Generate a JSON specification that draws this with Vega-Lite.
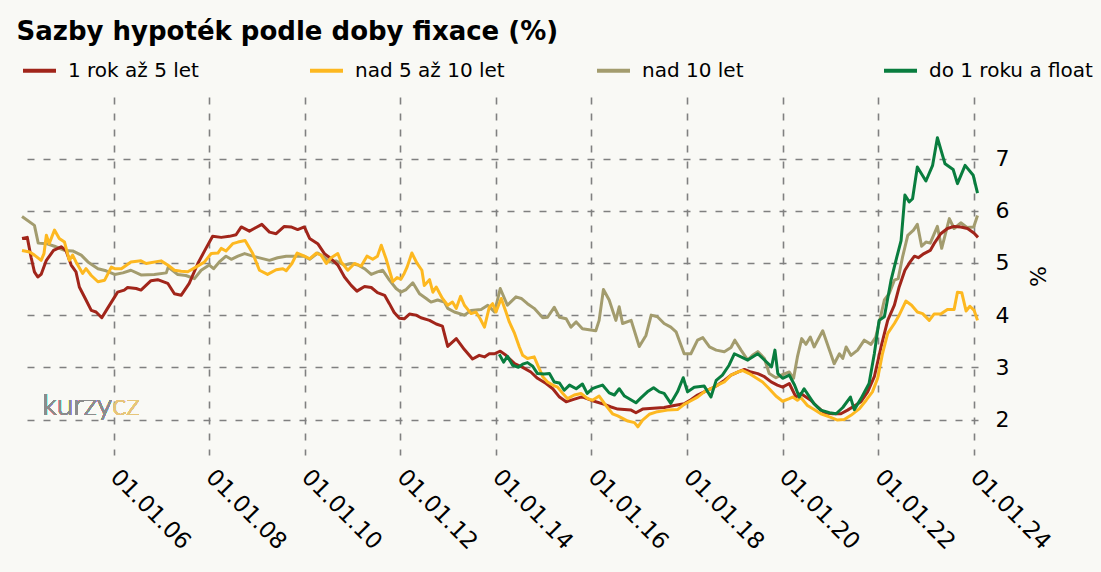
{
  "$schema": "https://vega.github.io/schema/vega-lite/v6.json",
  "autosize": "none",
  "width": 956,
  "height": 358,
  "padding": {"left": 22, "top": 97, "right": 123, "bottom": 117},
  "background": "#f9f9f5",
  "title": {
    "text": "Sazby hypoték podle doby fixace (%)",
    "anchor": "start",
    "font": "DejaVu Sans",
    "fontSize": 26,
    "fontWeight": "bold",
    "color": "#000000",
    "dx": -4,
    "offset": 7
  },
  "config": {
    "view": {"stroke": null},
    "font": "DejaVu Sans"
  },
  "data": {
    "values": [
      {"s":"nad 10 let","t":2004.08,"v":5.89},{"s":"nad 10 let","t":2004.34,"v":5.72},{"s":"nad 10 let","t":2004.42,"v":5.38},{"s":"nad 10 let","t":2004.59,"v":5.37},{"s":"nad 10 let","t":2004.76,"v":5.32},{"s":"nad 10 let","t":2004.97,"v":5.24},{"s":"nad 10 let","t":2005.14,"v":5.23},{"s":"nad 10 let","t":2005.32,"v":5.15},{"s":"nad 10 let","t":2005.46,"v":5.02},{"s":"nad 10 let","t":2005.67,"v":4.89},{"s":"nad 10 let","t":2005.84,"v":4.85},{"s":"nad 10 let","t":2006.02,"v":4.78},{"s":"nad 10 let","t":2006.19,"v":4.81},{"s":"nad 10 let","t":2006.36,"v":4.86},{"s":"nad 10 let","t":2006.57,"v":4.77},{"s":"nad 10 let","t":2006.85,"v":4.78},{"s":"nad 10 let","t":2007.10,"v":4.81},{"s":"nad 10 let","t":2007.14,"v":4.92},{"s":"nad 10 let","t":2007.34,"v":4.78},{"s":"nad 10 let","t":2007.51,"v":4.76},{"s":"nad 10 let","t":2007.69,"v":4.70},{"s":"nad 10 let","t":2007.83,"v":4.86},{"s":"nad 10 let","t":2008.00,"v":4.96},{"s":"nad 10 let","t":2008.09,"v":4.89},{"s":"nad 10 let","t":2008.21,"v":5.02},{"s":"nad 10 let","t":2008.35,"v":5.13},{"s":"nad 10 let","t":2008.46,"v":5.07},{"s":"nad 10 let","t":2008.60,"v":5.13},{"s":"nad 10 let","t":2008.74,"v":5.18},{"s":"nad 10 let","t":2008.91,"v":5.13},{"s":"nad 10 let","t":2009.26,"v":5.05},{"s":"nad 10 let","t":2009.43,"v":5.10},{"s":"nad 10 let","t":2009.61,"v":5.13},{"s":"nad 10 let","t":2009.78,"v":5.13},{"s":"nad 10 let","t":2009.99,"v":5.13},{"s":"nad 10 let","t":2010.10,"v":5.07},{"s":"nad 10 let","t":2010.27,"v":5.19},{"s":"nad 10 let","t":2010.41,"v":5.11},{"s":"nad 10 let","t":2010.51,"v":5.02},{"s":"nad 10 let","t":2010.65,"v":5.04},{"s":"nad 10 let","t":2010.83,"v":4.96},{"s":"nad 10 let","t":2010.97,"v":4.99},{"s":"nad 10 let","t":2011.11,"v":4.96},{"s":"nad 10 let","t":2011.25,"v":4.89},{"s":"nad 10 let","t":2011.39,"v":4.78},{"s":"nad 10 let","t":2011.52,"v":4.83},{"s":"nad 10 let","t":2011.63,"v":4.86},{"s":"nad 10 let","t":2011.77,"v":4.67},{"s":"nad 10 let","t":2011.91,"v":4.51},{"s":"nad 10 let","t":2012.01,"v":4.44},{"s":"nad 10 let","t":2012.12,"v":4.49},{"s":"nad 10 let","t":2012.26,"v":4.62},{"s":"nad 10 let","t":2012.40,"v":4.41},{"s":"nad 10 let","t":2012.54,"v":4.32},{"s":"nad 10 let","t":2012.64,"v":4.25},{"s":"nad 10 let","t":2012.78,"v":4.29},{"s":"nad 10 let","t":2012.92,"v":4.25},{"s":"nad 10 let","t":2012.99,"v":4.13},{"s":"nad 10 let","t":2013.13,"v":4.06},{"s":"nad 10 let","t":2013.34,"v":4.00},{"s":"nad 10 let","t":2013.48,"v":4.09},{"s":"nad 10 let","t":2013.69,"v":4.11},{"s":"nad 10 let","t":2013.83,"v":4.19},{"s":"nad 10 let","t":2013.97,"v":4.06},{"s":"nad 10 let","t":2014.09,"v":4.51},{"s":"nad 10 let","t":2014.24,"v":4.19},{"s":"nad 10 let","t":2014.42,"v":4.35},{"s":"nad 10 let","t":2014.53,"v":4.32},{"s":"nad 10 let","t":2014.66,"v":4.22},{"s":"nad 10 let","t":2014.80,"v":4.13},{"s":"nad 10 let","t":2014.98,"v":3.95},{"s":"nad 10 let","t":2015.08,"v":3.96},{"s":"nad 10 let","t":2015.22,"v":4.15},{"s":"nad 10 let","t":2015.33,"v":3.96},{"s":"nad 10 let","t":2015.47,"v":3.93},{"s":"nad 10 let","t":2015.57,"v":3.77},{"s":"nad 10 let","t":2015.68,"v":3.87},{"s":"nad 10 let","t":2015.81,"v":3.74},{"s":"nad 10 let","t":2015.95,"v":3.72},{"s":"nad 10 let","t":2016.09,"v":3.70},{"s":"nad 10 let","t":2016.16,"v":3.90},{"s":"nad 10 let","t":2016.25,"v":4.49},{"s":"nad 10 let","t":2016.37,"v":4.29},{"s":"nad 10 let","t":2016.51,"v":3.90},{"s":"nad 10 let","t":2016.58,"v":4.16},{"s":"nad 10 let","t":2016.65,"v":3.84},{"s":"nad 10 let","t":2016.83,"v":3.90},{"s":"nad 10 let","t":2017.00,"v":3.40},{"s":"nad 10 let","t":2017.14,"v":3.61},{"s":"nad 10 let","t":2017.25,"v":4.00},{"s":"nad 10 let","t":2017.38,"v":3.97},{"s":"nad 10 let","t":2017.52,"v":3.84},{"s":"nad 10 let","t":2017.66,"v":3.77},{"s":"nad 10 let","t":2017.77,"v":3.68},{"s":"nad 10 let","t":2017.94,"v":3.26},{"s":"nad 10 let","t":2018.08,"v":3.26},{"s":"nad 10 let","t":2018.22,"v":3.52},{"s":"nad 10 let","t":2018.33,"v":3.57},{"s":"nad 10 let","t":2018.47,"v":3.39},{"s":"nad 10 let","t":2018.61,"v":3.33},{"s":"nad 10 let","t":2018.78,"v":3.30},{"s":"nad 10 let","t":2018.92,"v":3.38},{"s":"nad 10 let","t":2019.00,"v":3.52},{"s":"nad 10 let","t":2019.13,"v":3.33},{"s":"nad 10 let","t":2019.27,"v":3.14},{"s":"nad 10 let","t":2019.37,"v":3.23},{"s":"nad 10 let","t":2019.48,"v":3.30},{"s":"nad 10 let","t":2019.62,"v":3.17},{"s":"nad 10 let","t":2019.72,"v":2.88},{"s":"nad 10 let","t":2019.86,"v":2.80},{"s":"nad 10 let","t":2019.97,"v":2.85},{"s":"nad 10 let","t":2020.14,"v":2.91},{"s":"nad 10 let","t":2020.23,"v":2.79},{"s":"nad 10 let","t":2020.31,"v":3.20},{"s":"nad 10 let","t":2020.40,"v":3.55},{"s":"nad 10 let","t":2020.49,"v":3.44},{"s":"nad 10 let","t":2020.58,"v":3.58},{"s":"nad 10 let","t":2020.66,"v":3.39},{"s":"nad 10 let","t":2020.84,"v":3.70},{"s":"nad 10 let","t":2020.98,"v":3.33},{"s":"nad 10 let","t":2021.08,"v":3.07},{"s":"nad 10 let","t":2021.19,"v":3.26},{"s":"nad 10 let","t":2021.26,"v":3.17},{"s":"nad 10 let","t":2021.33,"v":3.39},{"s":"nad 10 let","t":2021.43,"v":3.23},{"s":"nad 10 let","t":2021.57,"v":3.33},{"s":"nad 10 let","t":2021.71,"v":3.52},{"s":"nad 10 let","t":2021.85,"v":3.44},{"s":"nad 10 let","t":2021.95,"v":3.58},{"s":"nad 10 let","t":2022.04,"v":3.93},{"s":"nad 10 let","t":2022.13,"v":4.29},{"s":"nad 10 let","t":2022.23,"v":4.41},{"s":"nad 10 let","t":2022.34,"v":4.67},{"s":"nad 10 let","t":2022.42,"v":4.70},{"s":"nad 10 let","t":2022.51,"v":5.11},{"s":"nad 10 let","t":2022.62,"v":5.53},{"s":"nad 10 let","t":2022.74,"v":5.63},{"s":"nad 10 let","t":2022.82,"v":5.74},{"s":"nad 10 let","t":2022.91,"v":5.32},{"s":"nad 10 let","t":2023.00,"v":5.40},{"s":"nad 10 let","t":2023.09,"v":5.38},{"s":"nad 10 let","t":2023.24,"v":5.70},{"s":"nad 10 let","t":2023.33,"v":5.28},{"s":"nad 10 let","t":2023.40,"v":5.53},{"s":"nad 10 let","t":2023.49,"v":5.85},{"s":"nad 10 let","t":2023.59,"v":5.66},{"s":"nad 10 let","t":2023.73,"v":5.77},{"s":"nad 10 let","t":2023.86,"v":5.68},{"s":"nad 10 let","t":2024.00,"v":5.69},{"s":"nad 10 let","t":2024.08,"v":5.91},

      {"s":"1 rok až 5 let","t":2004.08,"v":5.47},{"s":"1 rok až 5 let","t":2004.19,"v":5.49},{"s":"1 rok až 5 let","t":2004.27,"v":5.11},{"s":"1 rok až 5 let","t":2004.34,"v":4.83},{"s":"1 rok až 5 let","t":2004.41,"v":4.73},{"s":"1 rok až 5 let","t":2004.48,"v":4.78},{"s":"1 rok až 5 let","t":2004.59,"v":5.05},{"s":"1 rok až 5 let","t":2004.74,"v":5.24},{"s":"1 rok až 5 let","t":2004.90,"v":5.31},{"s":"1 rok až 5 let","t":2005.00,"v":5.24},{"s":"1 rok až 5 let","t":2005.11,"v":4.96},{"s":"1 rok až 5 let","t":2005.21,"v":4.83},{"s":"1 rok až 5 let","t":2005.28,"v":4.54},{"s":"1 rok až 5 let","t":2005.42,"v":4.29},{"s":"1 rok až 5 let","t":2005.53,"v":4.09},{"s":"1 rok až 5 let","t":2005.63,"v":4.06},{"s":"1 rok až 5 let","t":2005.75,"v":3.95},{"s":"1 rok až 5 let","t":2005.87,"v":4.13},{"s":"1 rok až 5 let","t":2006.02,"v":4.35},{"s":"1 rok až 5 let","t":2006.08,"v":4.44},{"s":"1 rok až 5 let","t":2006.22,"v":4.48},{"s":"1 rok až 5 let","t":2006.29,"v":4.53},{"s":"1 rok až 5 let","t":2006.47,"v":4.51},{"s":"1 rok až 5 let","t":2006.57,"v":4.48},{"s":"1 rok až 5 let","t":2006.78,"v":4.66},{"s":"1 rok až 5 let","t":2006.92,"v":4.68},{"s":"1 rok až 5 let","t":2007.13,"v":4.61},{"s":"1 rok až 5 let","t":2007.27,"v":4.41},{"s":"1 rok až 5 let","t":2007.41,"v":4.38},{"s":"1 rok až 5 let","t":2007.58,"v":4.61},{"s":"1 rok až 5 let","t":2007.76,"v":4.99},{"s":"1 rok až 5 let","t":2007.93,"v":5.28},{"s":"1 rok až 5 let","t":2008.07,"v":5.51},{"s":"1 rok až 5 let","t":2008.25,"v":5.49},{"s":"1 rok až 5 let","t":2008.42,"v":5.51},{"s":"1 rok až 5 let","t":2008.56,"v":5.54},{"s":"1 rok až 5 let","t":2008.67,"v":5.69},{"s":"1 rok až 5 let","t":2008.84,"v":5.61},{"s":"1 rok až 5 let","t":2008.94,"v":5.66},{"s":"1 rok až 5 let","t":2009.10,"v":5.74},{"s":"1 rok až 5 let","t":2009.26,"v":5.59},{"s":"1 rok až 5 let","t":2009.40,"v":5.56},{"s":"1 rok až 5 let","t":2009.57,"v":5.70},{"s":"1 rok až 5 let","t":2009.71,"v":5.69},{"s":"1 rok až 5 let","t":2009.85,"v":5.64},{"s":"1 rok až 5 let","t":2009.99,"v":5.69},{"s":"1 rok až 5 let","t":2010.10,"v":5.47},{"s":"1 rok až 5 let","t":2010.27,"v":5.37},{"s":"1 rok až 5 let","t":2010.41,"v":5.18},{"s":"1 rok až 5 let","t":2010.55,"v":5.08},{"s":"1 rok až 5 let","t":2010.69,"v":4.96},{"s":"1 rok až 5 let","t":2010.83,"v":4.73},{"s":"1 rok až 5 let","t":2010.97,"v":4.57},{"s":"1 rok až 5 let","t":2011.09,"v":4.46},{"s":"1 rok až 5 let","t":2011.25,"v":4.55},{"s":"1 rok až 5 let","t":2011.39,"v":4.53},{"s":"1 rok až 5 let","t":2011.52,"v":4.43},{"s":"1 rok až 5 let","t":2011.67,"v":4.38},{"s":"1 rok až 5 let","t":2011.77,"v":4.22},{"s":"1 rok až 5 let","t":2011.87,"v":4.05},{"s":"1 rok až 5 let","t":2011.98,"v":3.94},{"s":"1 rok až 5 let","t":2012.08,"v":3.93},{"s":"1 rok až 5 let","t":2012.19,"v":4.02},{"s":"1 rok až 5 let","t":2012.33,"v":4.00},{"s":"1 rok až 5 let","t":2012.43,"v":3.95},{"s":"1 rok až 5 let","t":2012.61,"v":3.90},{"s":"1 rok až 5 let","t":2012.75,"v":3.83},{"s":"1 rok až 5 let","t":2012.88,"v":3.79},{"s":"1 rok až 5 let","t":2012.99,"v":3.40},{"s":"1 rok až 5 let","t":2013.17,"v":3.55},{"s":"1 rok až 5 let","t":2013.34,"v":3.34},{"s":"1 rok až 5 let","t":2013.51,"v":3.16},{"s":"1 rok až 5 let","t":2013.65,"v":3.23},{"s":"1 rok až 5 let","t":2013.76,"v":3.20},{"s":"1 rok až 5 let","t":2013.86,"v":3.26},{"s":"1 rok až 5 let","t":2013.97,"v":3.26},{"s":"1 rok až 5 let","t":2014.09,"v":3.31},{"s":"1 rok až 5 let","t":2014.21,"v":3.23},{"s":"1 rok až 5 let","t":2014.39,"v":3.07},{"s":"1 rok až 5 let","t":2014.56,"v":3.00},{"s":"1 rok až 5 let","t":2014.73,"v":2.91},{"s":"1 rok až 5 let","t":2014.87,"v":2.79},{"s":"1 rok až 5 let","t":2015.05,"v":2.69},{"s":"1 rok až 5 let","t":2015.19,"v":2.59},{"s":"1 rok až 5 let","t":2015.33,"v":2.43},{"s":"1 rok až 5 let","t":2015.47,"v":2.34},{"s":"1 rok až 5 let","t":2015.61,"v":2.38},{"s":"1 rok až 5 let","t":2015.78,"v":2.43},{"s":"1 rok až 5 let","t":2015.85,"v":2.42},{"s":"1 rok až 5 let","t":2015.99,"v":2.37},{"s":"1 rok až 5 let","t":2016.27,"v":2.29},{"s":"1 rok až 5 let","t":2016.41,"v":2.24},{"s":"1 rok až 5 let","t":2016.55,"v":2.20},{"s":"1 rok až 5 let","t":2016.83,"v":2.18},{"s":"1 rok až 5 let","t":2016.93,"v":2.13},{"s":"1 rok až 5 let","t":2017.07,"v":2.20},{"s":"1 rok až 5 let","t":2017.52,"v":2.23},{"s":"1 rok až 5 let","t":2017.73,"v":2.27},{"s":"1 rok až 5 let","t":2017.94,"v":2.30},{"s":"1 rok až 5 let","t":2018.08,"v":2.38},{"s":"1 rok až 5 let","t":2018.22,"v":2.47},{"s":"1 rok až 5 let","t":2018.36,"v":2.53},{"s":"1 rok až 5 let","t":2018.50,"v":2.59},{"s":"1 rok až 5 let","t":2018.64,"v":2.66},{"s":"1 rok až 5 let","t":2018.78,"v":2.75},{"s":"1 rok až 5 let","t":2018.92,"v":2.85},{"s":"1 rok až 5 let","t":2019.06,"v":2.91},{"s":"1 rok až 5 let","t":2019.20,"v":2.96},{"s":"1 rok až 5 let","t":2019.34,"v":2.91},{"s":"1 rok až 5 let","t":2019.48,"v":2.88},{"s":"1 rok až 5 let","t":2019.62,"v":2.82},{"s":"1 rok až 5 let","t":2019.76,"v":2.72},{"s":"1 rok až 5 let","t":2019.89,"v":2.66},{"s":"1 rok až 5 let","t":2020.00,"v":2.62},{"s":"1 rok až 5 let","t":2020.14,"v":2.69},{"s":"1 rok až 5 let","t":2020.28,"v":2.43},{"s":"1 rok až 5 let","t":2020.38,"v":2.50},{"s":"1 rok až 5 let","t":2020.59,"v":2.37},{"s":"1 rok až 5 let","t":2020.73,"v":2.24},{"s":"1 rok až 5 let","t":2020.87,"v":2.13},{"s":"1 rok až 5 let","t":2021.05,"v":2.11},{"s":"1 rok až 5 let","t":2021.22,"v":2.11},{"s":"1 rok až 5 let","t":2021.36,"v":2.18},{"s":"1 rok až 5 let","t":2021.50,"v":2.26},{"s":"1 rok až 5 let","t":2021.64,"v":2.34},{"s":"1 rok až 5 let","t":2021.78,"v":2.53},{"s":"1 rok až 5 let","t":2021.92,"v":2.82},{"s":"1 rok až 5 let","t":2022.06,"v":3.39},{"s":"1 rok až 5 let","t":2022.20,"v":3.90},{"s":"1 rok až 5 let","t":2022.34,"v":4.19},{"s":"1 rok až 5 let","t":2022.44,"v":4.54},{"s":"1 rok až 5 let","t":2022.56,"v":4.86},{"s":"1 rok až 5 let","t":2022.67,"v":5.02},{"s":"1 rok až 5 let","t":2022.76,"v":5.13},{"s":"1 rok až 5 let","t":2022.84,"v":5.10},{"s":"1 rok až 5 let","t":2022.96,"v":5.18},{"s":"1 rok až 5 let","t":2023.09,"v":5.24},{"s":"1 rok až 5 let","t":2023.17,"v":5.37},{"s":"1 rok až 5 let","t":2023.31,"v":5.56},{"s":"1 rok až 5 let","t":2023.45,"v":5.66},{"s":"1 rok až 5 let","t":2023.59,"v":5.70},{"s":"1 rok až 5 let","t":2023.73,"v":5.69},{"s":"1 rok až 5 let","t":2023.87,"v":5.66},{"s":"1 rok až 5 let","t":2024.01,"v":5.57},{"s":"1 rok až 5 let","t":2024.09,"v":5.49},

      {"s":"nad 5 až 10 let","t":2004.08,"v":5.24},{"s":"nad 5 až 10 let","t":2004.24,"v":5.21},{"s":"nad 5 až 10 let","t":2004.34,"v":5.15},{"s":"nad 5 až 10 let","t":2004.48,"v":5.05},{"s":"nad 5 až 10 let","t":2004.54,"v":5.18},{"s":"nad 5 až 10 let","t":2004.59,"v":5.53},{"s":"nad 5 až 10 let","t":2004.65,"v":5.37},{"s":"nad 5 až 10 let","t":2004.76,"v":5.63},{"s":"nad 5 až 10 let","t":2004.86,"v":5.47},{"s":"nad 5 až 10 let","t":2004.97,"v":5.40},{"s":"nad 5 až 10 let","t":2005.07,"v":5.05},{"s":"nad 5 až 10 let","t":2005.14,"v":5.15},{"s":"nad 5 až 10 let","t":2005.21,"v":5.02},{"s":"nad 5 až 10 let","t":2005.35,"v":4.80},{"s":"nad 5 až 10 let","t":2005.42,"v":4.89},{"s":"nad 5 až 10 let","t":2005.53,"v":4.76},{"s":"nad 5 až 10 let","t":2005.67,"v":4.64},{"s":"nad 5 až 10 let","t":2005.81,"v":4.67},{"s":"nad 5 až 10 let","t":2005.95,"v":4.92},{"s":"nad 5 až 10 let","t":2006.02,"v":4.89},{"s":"nad 5 až 10 let","t":2006.16,"v":4.89},{"s":"nad 5 až 10 let","t":2006.36,"v":5.02},{"s":"nad 5 až 10 let","t":2006.57,"v":5.04},{"s":"nad 5 až 10 let","t":2006.68,"v":4.99},{"s":"nad 5 až 10 let","t":2006.99,"v":5.04},{"s":"nad 5 až 10 let","t":2007.13,"v":4.96},{"s":"nad 5 až 10 let","t":2007.27,"v":4.86},{"s":"nad 5 až 10 let","t":2007.41,"v":4.84},{"s":"nad 5 až 10 let","t":2007.55,"v":4.83},{"s":"nad 5 až 10 let","t":2007.72,"v":4.92},{"s":"nad 5 až 10 let","t":2007.90,"v":5.02},{"s":"nad 5 až 10 let","t":2008.04,"v":5.18},{"s":"nad 5 až 10 let","t":2008.18,"v":5.19},{"s":"nad 5 až 10 let","t":2008.25,"v":5.28},{"s":"nad 5 až 10 let","t":2008.35,"v":5.23},{"s":"nad 5 až 10 let","t":2008.49,"v":5.37},{"s":"nad 5 až 10 let","t":2008.60,"v":5.40},{"s":"nad 5 až 10 let","t":2008.75,"v":5.43},{"s":"nad 5 až 10 let","t":2008.91,"v":5.18},{"s":"nad 5 až 10 let","t":2009.05,"v":4.86},{"s":"nad 5 až 10 let","t":2009.22,"v":4.78},{"s":"nad 5 až 10 let","t":2009.40,"v":4.87},{"s":"nad 5 až 10 let","t":2009.54,"v":4.89},{"s":"nad 5 až 10 let","t":2009.61,"v":4.85},{"s":"nad 5 až 10 let","t":2009.73,"v":4.99},{"s":"nad 5 až 10 let","t":2009.84,"v":5.19},{"s":"nad 5 až 10 let","t":2009.99,"v":5.13},{"s":"nad 5 až 10 let","t":2010.10,"v":5.08},{"s":"nad 5 až 10 let","t":2010.24,"v":5.19},{"s":"nad 5 až 10 let","t":2010.34,"v":5.15},{"s":"nad 5 až 10 let","t":2010.45,"v":4.99},{"s":"nad 5 až 10 let","t":2010.55,"v":5.10},{"s":"nad 5 až 10 let","t":2010.69,"v":5.18},{"s":"nad 5 až 10 let","t":2010.76,"v":5.02},{"s":"nad 5 až 10 let","t":2010.90,"v":4.86},{"s":"nad 5 až 10 let","t":2011.04,"v":4.99},{"s":"nad 5 až 10 let","t":2011.18,"v":4.94},{"s":"nad 5 až 10 let","t":2011.30,"v":5.13},{"s":"nad 5 až 10 let","t":2011.42,"v":5.07},{"s":"nad 5 až 10 let","t":2011.52,"v":5.13},{"s":"nad 5 až 10 let","t":2011.60,"v":5.34},{"s":"nad 5 až 10 let","t":2011.70,"v":5.08},{"s":"nad 5 až 10 let","t":2011.84,"v":4.64},{"s":"nad 5 až 10 let","t":2011.93,"v":4.72},{"s":"nad 5 až 10 let","t":2012.01,"v":4.69},{"s":"nad 5 až 10 let","t":2012.08,"v":4.80},{"s":"nad 5 až 10 let","t":2012.14,"v":4.92},{"s":"nad 5 až 10 let","t":2012.24,"v":5.19},{"s":"nad 5 až 10 let","t":2012.35,"v":4.99},{"s":"nad 5 až 10 let","t":2012.45,"v":4.86},{"s":"nad 5 až 10 let","t":2012.50,"v":4.57},{"s":"nad 5 až 10 let","t":2012.61,"v":4.68},{"s":"nad 5 až 10 let","t":2012.68,"v":4.44},{"s":"nad 5 až 10 let","t":2012.75,"v":4.54},{"s":"nad 5 až 10 let","t":2012.88,"v":4.32},{"s":"nad 5 až 10 let","t":2012.99,"v":4.19},{"s":"nad 5 až 10 let","t":2013.09,"v":4.25},{"s":"nad 5 až 10 let","t":2013.17,"v":4.13},{"s":"nad 5 až 10 let","t":2013.26,"v":4.36},{"s":"nad 5 až 10 let","t":2013.34,"v":4.19},{"s":"nad 5 až 10 let","t":2013.48,"v":4.03},{"s":"nad 5 až 10 let","t":2013.58,"v":4.06},{"s":"nad 5 až 10 let","t":2013.67,"v":3.93},{"s":"nad 5 až 10 let","t":2013.76,"v":3.77},{"s":"nad 5 až 10 let","t":2013.86,"v":4.15},{"s":"nad 5 až 10 let","t":2013.93,"v":4.22},{"s":"nad 5 až 10 let","t":2014.00,"v":4.06},{"s":"nad 5 až 10 let","t":2014.11,"v":4.32},{"s":"nad 5 až 10 let","t":2014.21,"v":4.06},{"s":"nad 5 až 10 let","t":2014.28,"v":3.87},{"s":"nad 5 až 10 let","t":2014.39,"v":3.65},{"s":"nad 5 až 10 let","t":2014.49,"v":3.39},{"s":"nad 5 až 10 let","t":2014.56,"v":3.23},{"s":"nad 5 až 10 let","t":2014.66,"v":3.17},{"s":"nad 5 až 10 let","t":2014.80,"v":3.20},{"s":"nad 5 až 10 let","t":2014.89,"v":3.01},{"s":"nad 5 až 10 let","t":2014.98,"v":2.82},{"s":"nad 5 až 10 let","t":2015.08,"v":2.72},{"s":"nad 5 až 10 let","t":2015.19,"v":2.66},{"s":"nad 5 až 10 let","t":2015.29,"v":2.62},{"s":"nad 5 až 10 let","t":2015.40,"v":2.50},{"s":"nad 5 až 10 let","t":2015.50,"v":2.40},{"s":"nad 5 až 10 let","t":2015.64,"v":2.47},{"s":"nad 5 až 10 let","t":2015.78,"v":2.50},{"s":"nad 5 až 10 let","t":2015.92,"v":2.40},{"s":"nad 5 až 10 let","t":2016.02,"v":2.37},{"s":"nad 5 až 10 let","t":2016.16,"v":2.45},{"s":"nad 5 až 10 let","t":2016.30,"v":2.27},{"s":"nad 5 až 10 let","t":2016.44,"v":2.11},{"s":"nad 5 až 10 let","t":2016.55,"v":2.07},{"s":"nad 5 až 10 let","t":2016.76,"v":1.97},{"s":"nad 5 až 10 let","t":2016.90,"v":1.94},{"s":"nad 5 až 10 let","t":2016.97,"v":1.86},{"s":"nad 5 až 10 let","t":2017.07,"v":1.99},{"s":"nad 5 až 10 let","t":2017.21,"v":2.10},{"s":"nad 5 až 10 let","t":2017.38,"v":2.15},{"s":"nad 5 až 10 let","t":2017.59,"v":2.18},{"s":"nad 5 až 10 let","t":2017.80,"v":2.19},{"s":"nad 5 až 10 let","t":2017.94,"v":2.29},{"s":"nad 5 až 10 let","t":2018.08,"v":2.36},{"s":"nad 5 až 10 let","t":2018.22,"v":2.43},{"s":"nad 5 až 10 let","t":2018.36,"v":2.53},{"s":"nad 5 až 10 let","t":2018.50,"v":2.59},{"s":"nad 5 až 10 let","t":2018.64,"v":2.66},{"s":"nad 5 až 10 let","t":2018.78,"v":2.72},{"s":"nad 5 až 10 let","t":2018.92,"v":2.85},{"s":"nad 5 až 10 let","t":2019.06,"v":2.91},{"s":"nad 5 až 10 let","t":2019.16,"v":2.94},{"s":"nad 5 až 10 let","t":2019.30,"v":2.88},{"s":"nad 5 až 10 let","t":2019.44,"v":2.80},{"s":"nad 5 až 10 let","t":2019.58,"v":2.72},{"s":"nad 5 až 10 let","t":2019.72,"v":2.59},{"s":"nad 5 až 10 let","t":2019.86,"v":2.45},{"s":"nad 5 až 10 let","t":2020.00,"v":2.35},{"s":"nad 5 až 10 let","t":2020.14,"v":2.40},{"s":"nad 5 až 10 let","t":2020.21,"v":2.43},{"s":"nad 5 až 10 let","t":2020.31,"v":2.37},{"s":"nad 5 až 10 let","t":2020.38,"v":2.42},{"s":"nad 5 až 10 let","t":2020.52,"v":2.27},{"s":"nad 5 až 10 let","t":2020.66,"v":2.19},{"s":"nad 5 až 10 let","t":2020.80,"v":2.11},{"s":"nad 5 až 10 let","t":2020.98,"v":2.05},{"s":"nad 5 až 10 let","t":2021.15,"v":1.99},{"s":"nad 5 až 10 let","t":2021.29,"v":2.00},{"s":"nad 5 až 10 let","t":2021.43,"v":2.08},{"s":"nad 5 až 10 let","t":2021.61,"v":2.21},{"s":"nad 5 až 10 let","t":2021.75,"v":2.37},{"s":"nad 5 až 10 let","t":2021.88,"v":2.53},{"s":"nad 5 až 10 let","t":2021.99,"v":2.79},{"s":"nad 5 až 10 let","t":2022.09,"v":3.26},{"s":"nad 5 až 10 let","t":2022.20,"v":3.65},{"s":"nad 5 až 10 let","t":2022.34,"v":3.84},{"s":"nad 5 až 10 let","t":2022.44,"v":4.00},{"s":"nad 5 až 10 let","t":2022.58,"v":4.27},{"s":"nad 5 až 10 let","t":2022.70,"v":4.19},{"s":"nad 5 až 10 let","t":2022.82,"v":4.06},{"s":"nad 5 až 10 let","t":2022.93,"v":4.03},{"s":"nad 5 až 10 let","t":2023.07,"v":3.90},{"s":"nad 5 až 10 let","t":2023.17,"v":4.02},{"s":"nad 5 až 10 let","t":2023.31,"v":4.02},{"s":"nad 5 až 10 let","t":2023.45,"v":4.11},{"s":"nad 5 až 10 let","t":2023.59,"v":4.11},{"s":"nad 5 až 10 let","t":2023.66,"v":4.44},{"s":"nad 5 až 10 let","t":2023.75,"v":4.43},{"s":"nad 5 až 10 let","t":2023.84,"v":4.08},{"s":"nad 5 až 10 let","t":2023.92,"v":4.17},{"s":"nad 5 až 10 let","t":2024.01,"v":4.09},{"s":"nad 5 až 10 let","t":2024.08,"v":3.90},

      {"s":"do 1 roku a float","t":2014.07,"v":3.25},{"s":"do 1 roku a float","t":2014.16,"v":3.10},{"s":"do 1 roku a float","t":2014.24,"v":3.21},{"s":"do 1 roku a float","t":2014.35,"v":3.04},{"s":"do 1 roku a float","t":2014.47,"v":3.00},{"s":"do 1 roku a float","t":2014.56,"v":3.06},{"s":"do 1 roku a float","t":2014.66,"v":3.09},{"s":"do 1 roku a float","t":2014.77,"v":3.02},{"s":"do 1 roku a float","t":2014.87,"v":2.88},{"s":"do 1 roku a float","t":2015.01,"v":2.87},{"s":"do 1 roku a float","t":2015.12,"v":2.88},{"s":"do 1 roku a float","t":2015.22,"v":2.72},{"s":"do 1 roku a float","t":2015.33,"v":2.70},{"s":"do 1 roku a float","t":2015.43,"v":2.56},{"s":"do 1 roku a float","t":2015.54,"v":2.66},{"s":"do 1 roku a float","t":2015.68,"v":2.59},{"s":"do 1 roku a float","t":2015.81,"v":2.68},{"s":"do 1 roku a float","t":2015.91,"v":2.50},{"s":"do 1 roku a float","t":2016.02,"v":2.59},{"s":"do 1 roku a float","t":2016.10,"v":2.62},{"s":"do 1 roku a float","t":2016.23,"v":2.66},{"s":"do 1 roku a float","t":2016.37,"v":2.51},{"s":"do 1 roku a float","t":2016.48,"v":2.47},{"s":"do 1 roku a float","t":2016.58,"v":2.59},{"s":"do 1 roku a float","t":2016.69,"v":2.45},{"s":"do 1 roku a float","t":2016.93,"v":2.32},{"s":"do 1 roku a float","t":2017.04,"v":2.42},{"s":"do 1 roku a float","t":2017.17,"v":2.53},{"s":"do 1 roku a float","t":2017.30,"v":2.61},{"s":"do 1 roku a float","t":2017.42,"v":2.53},{"s":"do 1 roku a float","t":2017.52,"v":2.50},{"s":"do 1 roku a float","t":2017.66,"v":2.31},{"s":"do 1 roku a float","t":2017.80,"v":2.53},{"s":"do 1 roku a float","t":2017.92,"v":2.80},{"s":"do 1 roku a float","t":2018.01,"v":2.53},{"s":"do 1 roku a float","t":2018.15,"v":2.62},{"s":"do 1 roku a float","t":2018.36,"v":2.64},{"s":"do 1 roku a float","t":2018.50,"v":2.43},{"s":"do 1 roku a float","t":2018.61,"v":2.75},{"s":"do 1 roku a float","t":2018.74,"v":2.85},{"s":"do 1 roku a float","t":2018.88,"v":3.04},{"s":"do 1 roku a float","t":2018.99,"v":3.26},{"s":"do 1 roku a float","t":2019.13,"v":3.20},{"s":"do 1 roku a float","t":2019.27,"v":3.14},{"s":"do 1 roku a float","t":2019.48,"v":3.26},{"s":"do 1 roku a float","t":2019.62,"v":3.14},{"s":"do 1 roku a float","t":2019.77,"v":3.01},{"s":"do 1 roku a float","t":2019.84,"v":3.33},{"s":"do 1 roku a float","t":2019.90,"v":2.88},{"s":"do 1 roku a float","t":2020.00,"v":2.79},{"s":"do 1 roku a float","t":2020.14,"v":2.85},{"s":"do 1 roku a float","t":2020.25,"v":2.66},{"s":"do 1 roku a float","t":2020.35,"v":2.43},{"s":"do 1 roku a float","t":2020.45,"v":2.59},{"s":"do 1 roku a float","t":2020.66,"v":2.30},{"s":"do 1 roku a float","t":2020.80,"v":2.18},{"s":"do 1 roku a float","t":2020.98,"v":2.13},{"s":"do 1 roku a float","t":2021.12,"v":2.11},{"s":"do 1 roku a float","t":2021.26,"v":2.23},{"s":"do 1 roku a float","t":2021.42,"v":2.43},{"s":"do 1 roku a float","t":2021.50,"v":2.19},{"s":"do 1 roku a float","t":2021.64,"v":2.40},{"s":"do 1 roku a float","t":2021.81,"v":2.69},{"s":"do 1 roku a float","t":2021.92,"v":3.26},{"s":"do 1 roku a float","t":2022.02,"v":3.90},{"s":"do 1 roku a float","t":2022.13,"v":3.97},{"s":"do 1 roku a float","t":2022.27,"v":4.67},{"s":"do 1 roku a float","t":2022.39,"v":5.11},{"s":"do 1 roku a float","t":2022.48,"v":5.43},{"s":"do 1 roku a float","t":2022.56,"v":6.30},{"s":"do 1 roku a float","t":2022.65,"v":6.17},{"s":"do 1 roku a float","t":2022.72,"v":6.23},{"s":"do 1 roku a float","t":2022.82,"v":6.84},{"s":"do 1 roku a float","t":2023.00,"v":6.57},{"s":"do 1 roku a float","t":2023.14,"v":6.87},{"s":"do 1 roku a float","t":2023.24,"v":7.40},{"s":"do 1 roku a float","t":2023.40,"v":6.90},{"s":"do 1 roku a float","t":2023.57,"v":6.79},{"s":"do 1 roku a float","t":2023.66,"v":6.52},{"s":"do 1 roku a float","t":2023.82,"v":6.87},{"s":"do 1 roku a float","t":2023.99,"v":6.68},{"s":"do 1 roku a float","t":2024.08,"v":6.34}
    ]
  },
  "encoding": {
    "x": {
      "field": "t",
      "type": "quantitative",
      "scale": {"domain": [2004.08, 2024.09], "nice": false, "zero": false},
      "axis": {
        "title": null,
        "values": [2006, 2008, 2010, 2012, 2014, 2016, 2018, 2020, 2022, 2024],
        "labelExpr": "'01.01.' + substring(toString(datum.value), 2, 4)",
        "labelAngle": 45,
        "labelAlign": "left",
        "labelBaseline": "middle",
        "labelPadding": 18,
        "labelFontSize": 23,
        "labelFont": "DejaVu Sans",
        "labelColor": "#000000",
        "labelOverlap": false,
        "labelFlush": false,
        "ticks": false,
        "domain": false,
        "grid": true,
        "gridColor": "#808080",
        "gridDash": [7, 9],
        "gridWidth": 1.6
      }
    },
    "y": {
      "field": "v",
      "type": "quantitative",
      "scale": {"domain": [1.32, 8.18], "nice": false, "zero": false},
      "axis": {
        "orient": "right",
        "title": "%",
        "titleFontSize": 22,
        "titleFontWeight": "normal",
        "titleFont": "DejaVu Sans",
        "titleColor": "#000000",
        "titlePadding": 16,
        "values": [2, 3, 4, 5, 6, 7],
        "labelFontSize": 22,
        "labelFont": "DejaVu Sans",
        "labelColor": "#000000",
        "labelPadding": 17,
        "labelFlush": false,
        "ticks": false,
        "domain": false,
        "grid": true,
        "gridColor": "#808080",
        "gridDash": [7, 9],
        "gridWidth": 1.6
      }
    }
  },
  "layer": [
    {
      "mark": {"type": "text", "align": "right", "baseline": "alphabetic", "font": "Lato", "fontSize": 30, "fontWeight": 300, "color": "#8c8c8c", "opacity": 0.85},
      "encoding": {"x": {"datum": 2005.967}, "y": {"datum": 2.08}, "text": {"value": "kurzy"}}
    },
    {
      "mark": {"type": "text", "align": "left", "baseline": "alphabetic", "font": "Lato", "fontSize": 30, "fontWeight": 300, "color": "#e6c57a", "opacity": 0.85},
      "encoding": {"x": {"datum": 2005.967}, "y": {"datum": 2.08}, "text": {"value": "cz"}}
    },
    {
      "mark": {"type": "line", "strokeWidth": 3, "strokeJoin": "round"},
      "encoding": {
        "color": {
          "field": "s",
          "type": "nominal",
          "scale": {
            "domain": ["1 rok až 5 let", "nad 5 až 10 let", "nad 10 let", "do 1 roku a float"],
            "range": ["#a1251a", "#fdb820", "#a39c6e", "#097d3e"]
          },
          "legend": {
            "title": null,
            "orient": "none",
            "legendX": -1,
            "legendY": -45,
            "direction": "horizontal",
            "columns": 4,
            "gridAlign": "all",
            "columnPadding": 70,
            "symbolType": "stroke",
            "symbolSize": 1089,
            "symbolStrokeWidth": 4,
            "labelOffset": 10,
            "labelLimit": 400,
            "labelFontSize": 20,
            "labelFont": "DejaVu Sans",
            "labelColor": "#000000",
            "padding": 0
          }
        }
      }
    }
  ]
}
